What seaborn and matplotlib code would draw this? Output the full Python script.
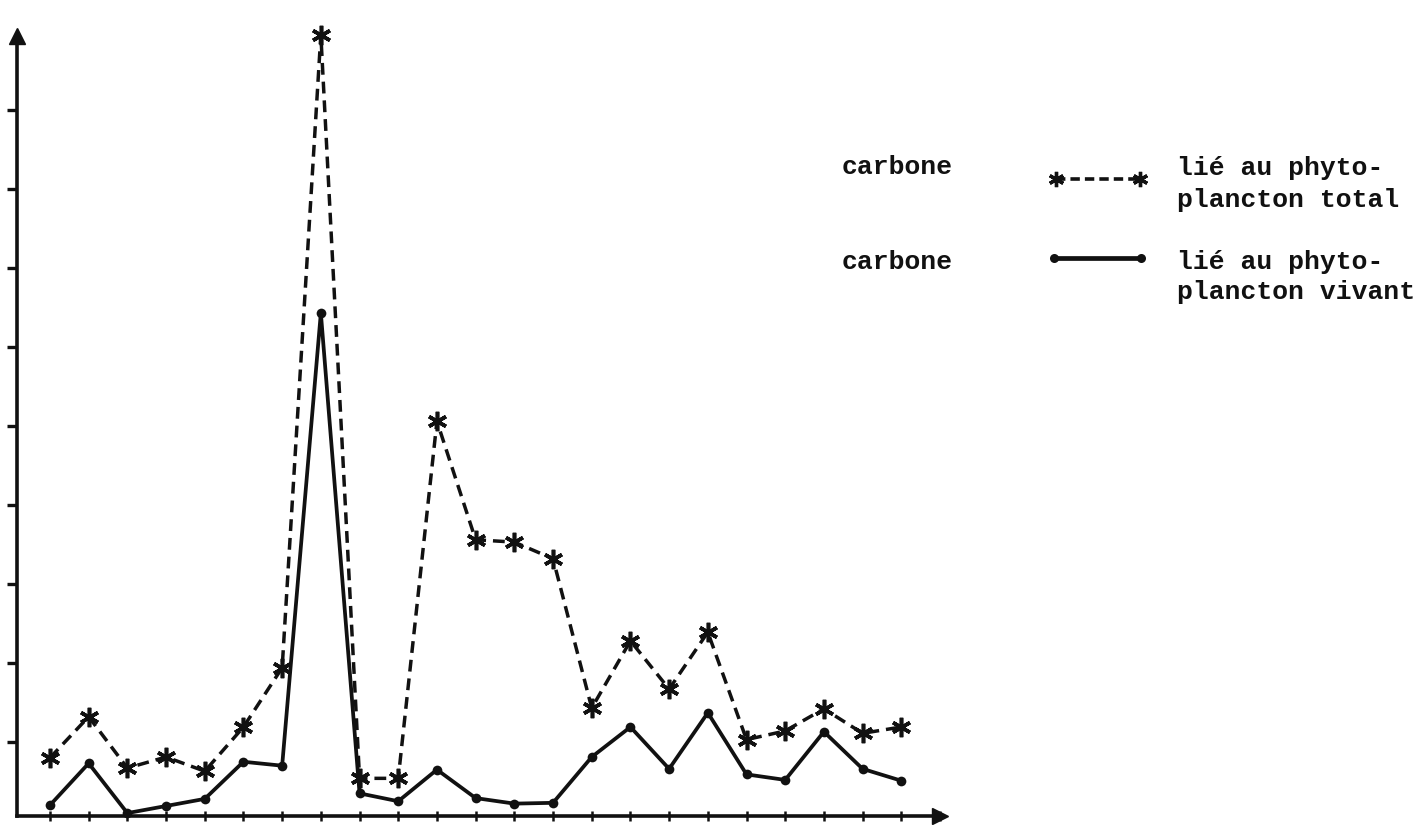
import numpy as np
import pandas as pd
import matplotlib
matplotlib.use("Agg")
import matplotlib.pyplot as plt
from matplotlib.lines import Line2D
import seaborn as sns

# Stations along the transect (one sample per tick on the x axis)
stations = list(range(23))

# Carbon bound to total phytoplankton (dashed line, asterisks)
carbone_total = [0.80, 1.32, 0.67, 0.81, 0.63, 1.19, 1.94, 9.95, 0.54, 0.54,
                 5.06, 3.56, 3.53, 3.32, 1.43, 2.28, 1.67, 2.39, 1.03, 1.14,
                 1.42, 1.11, 1.19]

# Carbon bound to living phytoplankton (solid line, dots)
carbone_vivant = [0.20, 0.73, 0.10, 0.19, 0.28, 0.75, 0.70, 6.43, 0.35, 0.25,
                  0.65, 0.29, 0.22, 0.23, 0.81, 1.19, 0.66, 1.37, 0.59, 0.52,
                  1.13, 0.66, 0.51]

legend_left = ["carbone", "carbone"]
legend_right = [["lié au phyto-", "plancton total"],
                ["lié au phyto-", "plancton vivant"]]

df = pd.DataFrame({
    "station": stations * 2,
    "carbone": carbone_total + carbone_vivant,
    "serie": ["total"] * len(stations) + ["vivant"] * len(stations),
})

sns.set_style("white")
plt.rcParams["font.family"] = ["Liberation Mono", "DejaVu Sans Mono"]

W, H = 1426, 825
fig = plt.figure(figsize=(W / 100, H / 100), dpi=100)
fig.patch.set_facecolor("white")

ax_left, ax_right = 17 / W, 940 / W
ax_bottom, ax_top = (H - 816) / H, (H - 36) / H
ax = fig.add_axes([ax_left, ax_bottom, ax_right - ax_left, ax_top - ax_bottom])

ink = "#111111"

sns.lineplot(data=df[df.serie == "total"], x="station", y="carbone", ax=ax,
             color=ink, linewidth=2.5, linestyle=(0, (3.4, 2.0)),
             marker=(6, 2, 0), markersize=14, markeredgewidth=2.6,
             markeredgecolor=ink, legend=False, clip_on=False)
sns.lineplot(data=df[df.serie == "vivant"], x="station", y="carbone", ax=ax,
             color=ink, linewidth=2.7, linestyle="-",
             marker="o", markersize=7, markeredgewidth=0,
             markerfacecolor=ink, markeredgecolor=ink, legend=False,
             clip_on=False)

# Axis ranges: 38.7 px per station, 79 px per y tick
ax.set_xlim((17 - 50) / 38.73, (940 - 50) / 38.73)
ax.set_ylim((821 - 816) / 79, (821 - 36) / 79)

for side in ("top", "right"):
    ax.spines[side].set_visible(False)
for side in ("left", "bottom"):
    ax.spines[side].set_linewidth(2.6)
    ax.spines[side].set_color(ink)

ax.set_yticks(range(1, 10))
ax.set_xticks(range(0, 24))
ax.tick_params(axis="y", left=True, direction="out", length=7, width=2.4,
               color=ink, labelleft=False)
ax.tick_params(axis="x", bottom=True, direction="inout", length=7, width=1.8,
               color=ink, labelbottom=False)
ax.set_xlabel("")
ax.set_ylabel("")

# Arrow heads at the ends of both axes
ax.plot(1, 0, ">", color=ink, markersize=12, transform=ax.transAxes,
        clip_on=False)
ax.plot(0, 1, "^", color=ink, markersize=12, transform=ax.transAxes,
        clip_on=False)

# Hand-set key on the right
def fx(px):
    return px / W


def fy(py):
    return 1 - py / H


text_kw = dict(fontsize=19, color=ink, va="center", ha="left",
               fontweight="bold")

rows = [(167, 179, 168, 200), (262, 258, 262, 292)]
for i, (y_left, y_line, y_r1, y_r2) in enumerate(rows):
    fig.text(fx(842), fy(y_left), legend_left[i], **text_kw)
    fig.text(fx(1177), fy(y_r1), legend_right[i][0], **text_kw)
    fig.text(fx(1177), fy(y_r2), legend_right[i][1], **text_kw)
    if i == 0:
        fig.add_artist(Line2D([fx(1056), fx(1140)], [fy(y_line), fy(y_line)],
                              color=ink, linewidth=2.6,
                              linestyle=(0, (2.6, 1.4)), marker=(6, 2, 0),
                              markersize=11, markeredgewidth=2.4,
                              markeredgecolor=ink))
    else:
        fig.add_artist(Line2D([fx(1054), fx(1141)], [fy(y_line), fy(y_line)],
                              color=ink, linewidth=3.4, linestyle="-",
                              marker="o", markersize=6.5, markeredgewidth=0,
                              markerfacecolor=ink))

fig.savefig("out.png", dpi=100, facecolor="white")
